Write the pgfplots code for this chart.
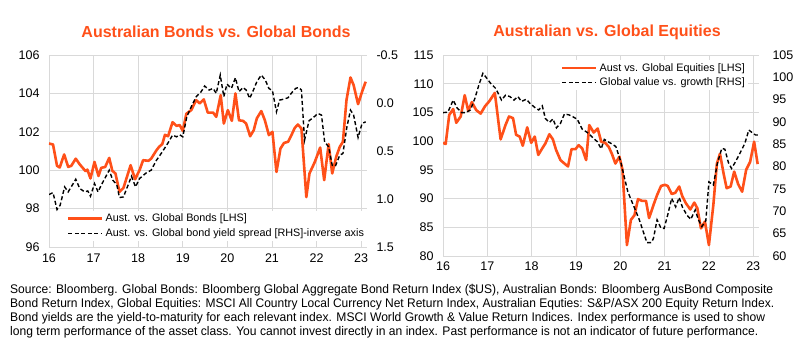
\documentclass[border=0pt]{standalone}
\usepackage{pgfplots}
\pgfplotsset{compat=1.18}
\usepackage{pgfplotstable}
\usepackage{fontspec}
\usepackage{graphicx}
\setmainfont{Liberation Sans}
\definecolor{orangec}{RGB}{255,80,25}
\definecolor{gridc}{RGB}{217,217,217}

\pgfplotstableread{
x y
16.00 101.39
16.09 101.34
16.18 100.23
16.24 100.14
16.34 100.82
16.43 100.17
16.50 100.23
16.60 100.60
16.69 100.30
16.82 99.95
16.86 100.03
16.93 99.57
17.02 100.43
17.11 99.70
17.17 100.12
17.26 100.17
17.35 100.64
17.42 99.97
17.49 99.83
17.58 98.87
17.67 99.08
17.83 100.26
17.93 99.53
18.03 100.00
18.11 100.52
18.23 100.49
18.29 100.60
18.41 101.04
18.47 101.22
18.54 101.36
18.60 101.84
18.67 101.77
18.77 102.50
18.86 102.31
18.93 102.35
19.00 102.05
19.08 102.94
19.19 103.13
19.30 103.65
19.38 103.48
19.47 103.69
19.56 103.00
19.68 103.00
19.75 102.78
19.85 103.91
19.92 102.43
20.01 103.13
20.10 102.57
20.18 104.00
20.26 102.60
20.35 102.57
20.42 102.43
20.51 101.77
20.59 102.08
20.66 102.70
20.76 103.08
20.84 102.60
20.93 101.83
21.01 102.00
21.10 99.91
21.19 101.13
21.27 101.42
21.36 101.48
21.43 101.80
21.51 102.20
21.58 102.38
21.66 102.17
21.77 98.60
21.84 99.83
21.96 100.43
22.08 101.18
22.17 99.48
22.27 101.36
22.35 99.83
22.44 100.70
22.52 101.22
22.59 101.48
22.67 103.65
22.76 104.83
22.83 104.43
22.93 103.44
23.02 104.09
23.10 104.61
}\bondrel

\pgfplotstableread{
x y
16.00 0.954
16.09 0.933
16.18 1.110
16.25 1.065
16.35 0.874
16.43 0.926
16.52 0.857
16.60 0.794
16.69 0.891
16.80 0.926
16.87 0.916
16.93 0.971
17.02 0.839
17.10 0.926
17.17 0.857
17.25 0.787
17.35 0.700
17.43 0.804
17.52 0.850
17.58 0.985
17.67 0.978
17.85 0.763
17.94 0.874
18.03 0.787
18.18 0.728
18.29 0.700
18.41 0.596
18.54 0.509
18.67 0.415
18.77 0.335
18.86 0.352
18.93 0.331
19.00 0.352
19.09 0.143
19.19 0.039
19.30 -0.065
19.41 -0.117
19.49 -0.177
19.59 -0.135
19.68 -0.152
19.75 -0.100
19.84 -0.291
19.92 -0.065
19.99 -0.197
20.09 -0.152
20.18 -0.263
20.26 -0.117
20.35 -0.162
20.42 -0.135
20.50 -0.048
20.59 -0.142
20.66 -0.222
20.76 -0.291
20.85 -0.239
20.93 -0.152
21.01 -0.128
21.10 0.091
21.17 -0.030
21.27 -0.041
21.36 -0.055
21.43 -0.100
21.53 -0.152
21.60 -0.162
21.66 -0.135
21.73 0.387
21.83 0.185
21.93 0.150
22.03 0.109
22.11 0.126
22.18 0.404
22.27 0.457
22.35 0.648
22.42 0.658
22.52 0.543
22.59 0.526
22.68 0.248
22.76 0.074
22.83 0.126
22.93 0.359
23.02 0.213
23.10 0.196
}\bondspread

\pgfplotstableread{
x y
16.00 99.7
16.06 99.5
16.14 104.55
16.23 105.6
16.30 103.2
16.40 104.3
16.49 108.0
16.57 105.25
16.65 106.8
16.75 105.4
16.85 104.8
16.95 106.1
17.04 106.9
17.17 108.4
17.30 100.3
17.41 102.8
17.49 104.3
17.58 104.0
17.65 101.1
17.73 100.8
17.80 99.2
17.90 102.4
17.99 99.7
18.07 100.8
18.15 97.6
18.24 98.75
18.31 99.6
18.40 101.2
18.48 100.3
18.55 98.5
18.65 96.7
18.74 96.1
18.82 95.6
18.90 98.6
18.99 98.6
19.06 99.3
19.14 98.75
19.23 96.7
19.30 102.8
19.40 101.5
19.49 102.2
19.57 99.9
19.66 99.7
19.74 99.0
19.81 97.8
19.89 96.1
19.98 97.3
20.05 95.0
20.15 81.9
20.24 86.3
20.32 87.1
20.40 89.9
20.49 89.6
20.58 89.6
20.65 86.6
20.75 88.9
20.83 90.6
20.92 92.2
21.01 92.4
21.07 92.2
21.16 90.8
21.24 91.0
21.33 92.1
21.40 90.4
21.48 89.2
21.58 88.1
21.67 89.3
21.74 88.3
21.82 84.8
21.91 86.0
22.00 81.9
22.10 88.9
22.18 96.1
22.25 97.8
22.33 94.4
22.40 91.8
22.49 92.1
22.57 94.7
22.66 92.5
22.75 91.2
22.84 95.0
22.93 96.4
23.02 99.9
23.10 96.0
}\eqrel

\pgfplotstableread{
x y
16.00 92.1
16.11 92.2
16.23 94.9
16.32 93.1
16.42 92.1
16.51 92.1
16.62 92.7
16.72 95.3
16.81 98.3
16.90 100.9
16.98 99.9
17.07 98.7
17.19 97.5
17.32 94.9
17.41 96.0
17.51 95.7
17.60 94.9
17.69 95.7
17.77 94.6
17.88 95.1
17.96 94.2
18.09 93.1
18.16 92.7
18.24 93.6
18.31 90.8
18.40 89.9
18.48 90.7
18.56 88.7
18.65 89.7
18.74 91.8
18.84 91.6
18.91 91.3
19.03 90.6
19.14 88.4
19.25 87.7
19.36 86.7
19.48 85.6
19.57 84.0
19.64 86.1
19.72 85.6
19.81 85.1
19.90 84.5
20.00 81.5
20.08 78.1
20.17 74.4
20.26 72.2
20.34 70.3
20.43 68.1
20.53 65.1
20.60 63.0
20.70 63.0
20.75 64.0
20.83 68.1
20.92 66.2
20.99 66.2
21.07 69.2
21.16 72.9
21.25 71.0
21.33 73.1
21.40 71.0
21.50 69.2
21.59 68.2
21.69 70.3
21.76 68.2
21.84 66.6
21.93 67.9
22.00 76.6
22.10 75.9
22.19 80.7
22.29 84.1
22.36 83.9
22.44 80.9
22.51 79.6
22.60 81.1
22.70 83.0
22.81 85.2
22.90 88.2
22.98 87.6
23.05 87.1
23.11 87.1
}\valgrowth

\pgfplotsset{
  base/.style={
    scale only axis, anchor=south west,
    xmin=16, xmax=23.13,
    axis line style={draw=none},
    major tick length=0pt,
    tick label style={font=\fontsize{12.5}{14}\selectfont, text=black},
    /pgf/number format/assume math mode=true,
  },
  orangeline/.style={color=orangec, line width=2.6pt, line join=round},
  dashline/.style={color=black, line width=1.4pt, dash pattern=on 4pt off 2.5pt},
  mylegend/.style={
    legend style={draw=none, fill=white, inner sep=1pt, row sep=1.5pt,
      font=\fontsize{10.8}{13}\selectfont, cells={anchor=west}},
    legend image code/.code={\draw[##1] (0pt,0pt) -- (34pt,0pt);},
  },
}

\newcommand{\fn}[2]{\resizebox{#1}{\height}{#2}}

\begin{document}
\begin{tikzpicture}[x=1pt,y=1pt]
\path[use as bounding box] (0,0) rectangle (796,360);

% ---------- Left chart ----------
\begin{axis}[base, at={(49pt,113pt)}, width=318pt, height=192pt,
  ymin=96, ymax=106, ytick={96,98,...,106},
  xtick={16,...,23},
  grid=major, grid style={draw=gridc, line width=0.8pt},
  yticklabel style={xshift=-6pt},
  xticklabel style={yshift=-3pt},
]
\addplot[orangeline] table[x=x,y=y] {\bondrel};
\end{axis}
\begin{axis}[base, at={(49pt,113pt)}, width=318pt, height=192pt,
  ymin=-0.5, ymax=1.5, y dir=reverse,
  axis y line*=right, axis x line=none,
  ytick={-0.5,0,0.5,1,1.5},
  yticklabel style={xshift=6pt, /pgf/number format/.cd, fixed, fixed zerofill, precision=1},
  mylegend,
  legend style={at={(0.053,0.03)}, anchor=south west},
]
\addlegendimage{orangeline}
\addlegendentry{Aust. vs. Global Bonds [LHS]}
\addplot[dashline] table[x=x,y=y] {\bondspread};
\addlegendentry{Aust. vs. Global bond yield spread [RHS]-inverse axis}
\end{axis}

% ---------- Right chart ----------
\begin{axis}[base, at={(443pt,104pt)}, width=316pt, height=201pt,
  ymin=80, ymax=115, ytick={80,85,...,115},
  xtick={16,...,23},
  grid=major, grid style={draw=gridc, line width=0.8pt},
  yticklabel style={xshift=-6pt},
  xticklabel style={yshift=-2pt},
]
\addplot[orangeline] table[x=x,y=y] {\eqrel};
\end{axis}
\begin{axis}[base, at={(443pt,104pt)}, width=316pt, height=201pt,
  ymin=60, ymax=105, ytick={60,65,...,105},
  axis y line*=right, axis x line=none,
  yticklabel style={xshift=10pt},
  mylegend,
  legend style={at={(0.37,0.975)}, anchor=north west},
]
\addlegendimage{orangeline}
\addlegendentry{Aust vs. Global Equities [LHS]}
\addplot[dashline] table[x=x,y=y] {\valgrowth};
\addlegendentry{Global value vs. growth [RHS]}
\end{axis}

% ---------- Titles ----------
\node[font=\fontsize{16}{20}\selectfont\bfseries, text=orangec] at (216,328) {Australian Bonds vs. Global Bonds};
\node[font=\fontsize{16}{20}\selectfont\bfseries, text=orangec] at (607,328) {Australian vs. Global Equities};

% ---------- Footnote ----------
\begin{scope}[every node/.style={anchor=base west, inner sep=0pt, font=\fontsize{12.5}{14}\selectfont}]
\node at (10,67) {\fn{763pt}{Source: Bloomberg. Global Bonds: Bloomberg Global Aggregate Bond Return Index (\$US), Australian Bonds: Bloomberg AusBond Composite}};
\node at (10,53) {\fn{764pt}{Bond Return Index, Global Equities: MSCI All Country Local Currency Net Return Index, Australian Equties: S\&P/ASX 200 Equity Return Index.}};
\node at (10,39) {\fn{755pt}{Bond yields are the yield-to-maturity for each relevant index. MSCI World Growth \& Value Return Indices. Index performance is used to show}};
\node at (10,25) {\fn{748pt}{long term performance of the asset class. You cannot invest directly in an index. Past performance is not an indicator of future performance.}};
\end{scope}
\end{tikzpicture}
\end{document}
